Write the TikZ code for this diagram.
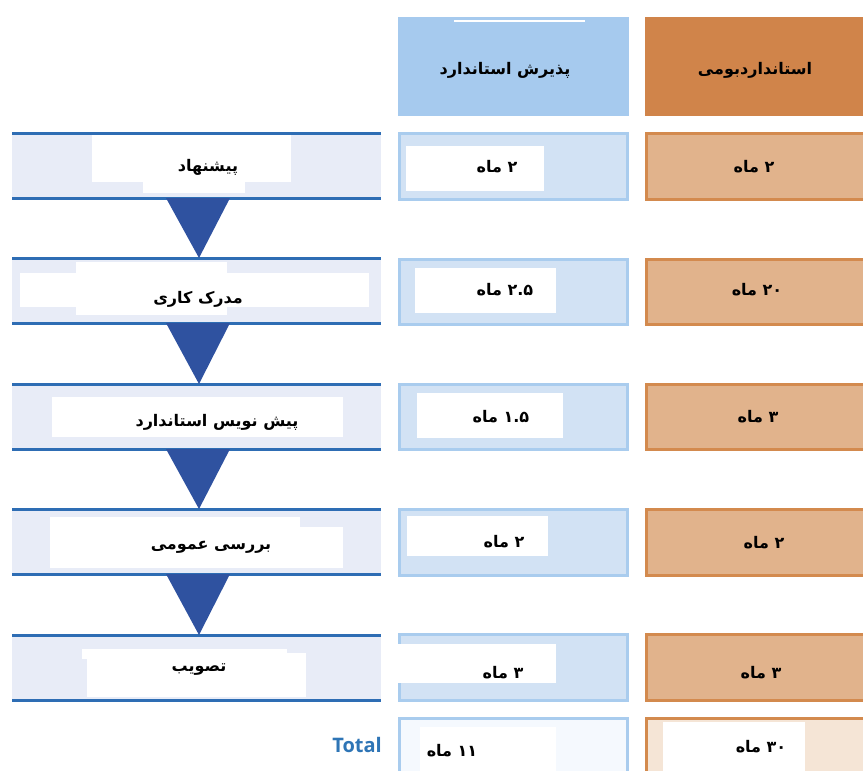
\documentclass[tikz,border=0pt]{standalone}
\usepackage{fontspec}
\TeXXeTstate=1
\newfontfamily\fa[Script=Arabic]{DejaVu Sans}
\newfontfamily\lat{Open Sans}
\usetikzlibrary{calc}
\definecolor{bandfill}{HTML}{E8ECF7}
\definecolor{bandline}{HTML}{2E6DB4}
\definecolor{trifill}{HTML}{2F52A0}
\definecolor{midfill}{HTML}{D2E2F4}
\definecolor{midbd}{HTML}{A9CCEE}
\definecolor{midhead}{HTML}{A6CAEE}
\definecolor{orfill}{HTML}{E1B38C}
\definecolor{orbd}{HTML}{D38A4E}
\definecolor{orhead}{HTML}{D0844A}
\definecolor{midtot}{HTML}{F5F9FE}
\definecolor{ortot}{HTML}{F5E5D6}
\definecolor{totblue}{HTML}{2E75B6}
\begin{document}
\begin{tikzpicture}[x=1pt,y=-1pt,
  box/.style={anchor=north west,inner sep=0pt,outer sep=0pt},
  band/.style={box,fill=bandfill,minimum width=369pt},
  bline/.style={draw=bandline,line width=3pt},
  midbox/.style={box,draw=midbd,fill=midfill,line width=2.5pt,minimum width=228pt},
  orbox/.style={box,draw=orbd,fill=orfill,line width=2.5pt,minimum width=230pt},
  wbox/.style={box,fill=white},
  tri/.style={fill=trifill},
  lbl/.style={inner sep=0pt,font=\fa\bfseries\fontsize{16}{18}\selectfont},
  tot/.style={inner sep=0pt,font=\lat\bfseries\fontsize{20}{22}\selectfont,text=totblue}
]
\useasboundingbox (0,0) rectangle (863,771);
\fill[white] (0,0) rectangle (863,771);

% headers
\node[box,fill=midhead,minimum width=231pt,minimum height=99pt] (hm) at (398,17) {};
\draw[white,line width=1.5pt] (454,21) -- (585,21);
\node[box,fill=orhead,minimum width=220pt,minimum height=99pt] (ho) at (645,17) {};
\node[lbl] (hmt) at (505,70) {\beginR پذیرش استاندارد\endR};
\node[lbl] (hot) at (755,70) {\beginR استانداردبومی\endR};

% left bands
\node[band,minimum height=65pt] (b1) at (12,133) {};
\node[band,minimum height=65pt] (b2) at (12,258) {};
\node[band,minimum height=65pt] (b3) at (12,384) {};
\node[band,minimum height=65pt] (b4) at (12,509) {};
\node[band,minimum height=65pt] (b5) at (12,635) {};
\foreach \b in {b1,b2,b3,b4,b5}{
  \draw[bline] (\b.north west) -- (\b.north east);
  \draw[bline] (\b.south west) -- (\b.south east);
}
% white label boxes (left)
\node[wbox,minimum width=199pt,minimum height=47pt] (w1a) at (92,135) {};
\node[wbox,minimum width=102pt,minimum height=58pt] (w1b) at (143,135) {};
\node[wbox,minimum width=349pt,minimum height=34pt] (w2a) at (20,273) {};
\node[wbox,minimum width=151pt,minimum height=53pt] (w2b) at (76,262) {};
\node[wbox,minimum width=291pt,minimum height=40pt] (w3) at (52,397) {};
\node[wbox,minimum width=293pt,minimum height=41pt] (w4a) at (50,527) {};
\node[wbox,minimum width=250pt,minimum height=20pt] (w4b) at (50,517) {};
\node[wbox,minimum width=205pt,minimum height=10pt] (w5a) at (82,649) {};
\node[wbox,minimum width=219pt,minimum height=44pt] (w5b) at (87,653) {};

% triangles
\fill[tri] ([xshift=-33pt]b1.south -| 199,0) -- ([xshift=31pt]b1.south -| 199,0) -- (b2.north -| 199,0) -- cycle;
\fill[tri] ([xshift=-33pt]b2.south -| 199,0) -- ([xshift=31pt]b2.south -| 199,0) -- (b3.north -| 199,0) -- cycle;
\fill[tri] ([xshift=-33pt]b3.south -| 199,0) -- ([xshift=31pt]b3.south -| 199,0) -- (b4.north -| 199,0) -- cycle;
\fill[tri] ([xshift=-33pt]b4.south -| 199,0) -- ([xshift=31pt]b4.south -| 199,0) -- (b5.north -| 199,0) -- cycle;

% left labels
\node[lbl] (l1) at (208,167) {\beginR پیشنهاد\endR};
\node[lbl] (l2) at (198,299) {\beginR مدرک کاری\endR};
\node[lbl] (l3) at (217,422) {\beginR پیش نویس استاندارد\endR};
\node[lbl] (l4) at (211,547) {\beginR بررسی عمومی\endR};
\node[lbl] (l5) at (199,670) {\beginR تصویب\endR};

% middle column
\node[midbox,minimum height=66pt] (m1) at (399.5,133.5) {};
\node[midbox,minimum height=65pt] (m2) at (399.5,259.5) {};
\node[midbox,minimum height=65pt] (m3) at (399.5,384.5) {};
\node[midbox,minimum height=66pt] (m4) at (399.5,509.5) {};
\node[midbox,minimum height=66pt] (m5) at (399.5,634.5) {};
\node[midbox,fill=midtot,minimum height=80pt] (m6) at (399.5,718.5) {};
\node[wbox,minimum width=138pt,minimum height=45pt] (mw1) at (406,146) {};
\node[wbox,minimum width=141pt,minimum height=45pt] (mw2) at (415,268) {};
\node[wbox,minimum width=146pt,minimum height=45pt] (mw3) at (417,393) {};
\node[wbox,minimum width=141pt,minimum height=40pt] (mw4) at (407,516) {};
\node[wbox,minimum width=168pt,minimum height=39pt] (mw5) at (388,644) {};
\node[wbox,minimum width=136pt,minimum height=50pt] (mw6) at (420,727) {};
\node[lbl] (v1) at (497,167) {\beginR \beginL۲\endL{} ماه\endR};
\node[lbl] (v2) at (505,290) {\beginR \beginL۲.۵\endL{} ماه\endR};
\node[lbl] (v3) at (501,417) {\beginR \beginL۱.۵\endL{} ماه\endR};
\node[lbl] (v4) at (504,542) {\beginR \beginL۲\endL{} ماه\endR};
\node[lbl] (v5) at (503,673) {\beginR \beginL۳\endL{} ماه\endR};
\node[lbl] (v6) at (452,751) {\beginR \beginL۱۱\endL{} ماه\endR};

% right column
\node[orbox,minimum height=66pt] (o1) at (646.5,133.5) {};
\node[orbox,minimum height=65pt] (o2) at (646.5,259.5) {};
\node[orbox,minimum height=65pt] (o3) at (646.5,384.5) {};
\node[orbox,minimum height=66pt] (o4) at (646.5,509.5) {};
\node[orbox,minimum height=66pt] (o5) at (646.5,634.5) {};
\node[orbox,fill=ortot,minimum height=80pt] (o6) at (646.5,718.5) {};
\node[wbox,minimum width=142pt,minimum height=50pt] (ow6) at (663,722) {};
\node[lbl] (r1) at (754,167) {\beginR \beginL۲\endL{} ماه\endR};
\node[lbl] (r2) at (757,290) {\beginR \beginL۲۰\endL{} ماه\endR};
\node[lbl] (r3) at (758,417) {\beginR \beginL۳\endL{} ماه\endR};
\node[lbl] (r4) at (764,543) {\beginR \beginL۲\endL{} ماه\endR};
\node[lbl] (r5) at (761,673) {\beginR \beginL۳\endL{} ماه\endR};
\node[lbl] (r6) at (761,747) {\beginR \beginL۳۰\endL{} ماه\endR};

\node[tot,anchor=east] (total) at (382,745) {Total};
\end{tikzpicture}
\end{document}
